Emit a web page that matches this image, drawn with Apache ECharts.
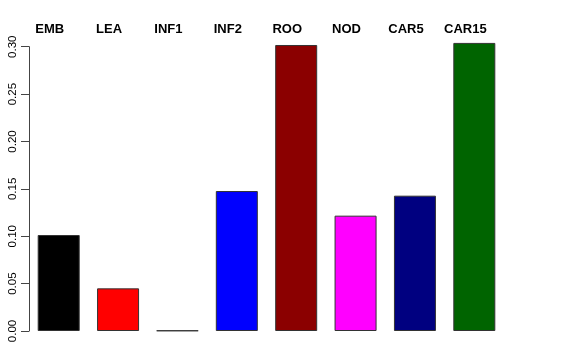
<!DOCTYPE html>
<html><head><meta charset="utf-8">
<script src="https://cdn.jsdelivr.net/npm/echarts@6/dist/echarts.min.js"></script>
<style>html,body{margin:0;padding:0;background:#fff}#c{width:576px;height:360px}</style>
</head><body><div id="c"></div>
<script>
const categories = ['EMB','LEA','INF1','INF2','ROO','NOD','CAR5','CAR15'];
const values = [0.1013, 0.045, 0.0005, 0.1477, 0.3018, 0.1217, 0.1428, 0.304];
const colors = ['#000000','#FF0000','#00CD00','#0000FF','#8B0000','#FF00FF','#000080','#006400'];
const yTicks = [0, 0.05, 0.10, 0.15, 0.20, 0.25, 0.30];

const chart = echarts.init(document.getElementById('c'), null, {renderer:'canvas'});
chart.setOption({
  animation:false,
  backgroundColor:'#fff',
  grid:{left:29, right:72, top:46.7, bottom:29, containLabel:false},
  xAxis:{
    type:'category', data:categories, position:'top',
    axisLine:{show:false}, axisTick:{show:false},
    axisLabel:{fontFamily:'Liberation Sans, Arial, sans-serif', fontWeight:'bold', fontSize:13, color:'#000', margin:11, interval:0,
      padding:[0,18,0,0]}
  },
  yAxis:{
    type:'value', min:yTicks[0], max:yTicks[yTicks.length-1], interval:0.05,
    splitLine:{show:false},
    axisLine:{show:true, lineStyle:{color:'#444', width:1}},
    axisTick:{show:true, length:8, lineStyle:{color:'#444'}},
    axisLabel:{rotate:90, fontFamily:'Liberation Sans, Arial, sans-serif', fontSize:11.5, color:'#000', margin:10,
      formatter: v => v.toFixed(2)}
  },
  series:[{
    type:'bar', clip:false, barWidth:42,
    data: values.map((v,i)=>({value:v, itemStyle:{color:colors[i]}})),
    itemStyle:{borderColor:'#333', borderWidth:1}
  }]
});
</script></body></html>
